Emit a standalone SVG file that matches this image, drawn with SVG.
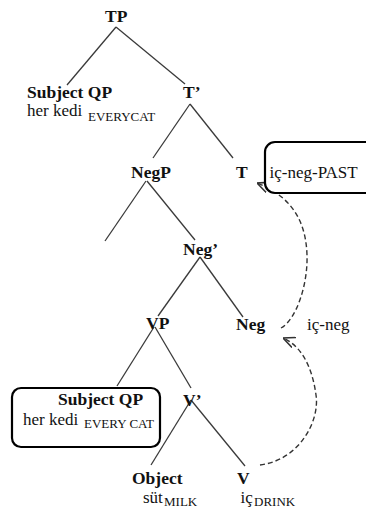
<svg xmlns="http://www.w3.org/2000/svg" width="366" height="511" viewBox="0 0 366 511">
  <style>
    text { font-family: "Liberation Serif", "Times New Roman", serif; fill: #111; }
    .b { font-weight: bold; font-size: 17.5px; }
    .r { font-size: 17px; }
    .s { font-size: 13px; }
    .edge { stroke: #3a3a3a; stroke-width: 1.3; fill: none; }
    .move { stroke: #333; stroke-width: 1.4; fill: none; stroke-dasharray: 5 3; marker-end: url(#chev); }
    .box { fill: #fff; stroke: #000; stroke-width: 2.2; }
  </style>
  <defs>
    <marker id="chev" viewBox="0 0 10 10" refX="10" refY="5" markerWidth="12" markerHeight="12" markerUnits="userSpaceOnUse" orient="auto">
      <path d="M0,0.5 L10,5 L0,9.5" fill="none" stroke="#333" stroke-width="1.3"/>
    </marker>
  </defs>
  <rect width="366" height="511" fill="#fff"/>

  <g id="connectors">
    <line class="edge" x1="116" y1="27" x2="67" y2="85"/>
    <line class="edge" x1="116" y1="27" x2="185" y2="84"/>
    <line class="edge" x1="190" y1="104" x2="153" y2="158"/>
    <line class="edge" x1="190" y1="104" x2="233" y2="158"/>
    <line class="edge" x1="146" y1="181" x2="105" y2="241"/>
    <line class="edge" x1="147" y1="181" x2="195" y2="240"/>
    <line class="edge" x1="200" y1="257" x2="158" y2="316"/>
    <line class="edge" x1="200" y1="257" x2="243" y2="317"/>
    <line class="edge" x1="154" y1="327" x2="117" y2="386"/>
    <line class="edge" x1="155" y1="327" x2="191" y2="388"/>
    <line class="edge" x1="191" y1="400" x2="151" y2="465"/>
    <line class="edge" x1="191" y1="400" x2="245" y2="466"/>
    <path class="move" d="M281 328 C296 320 308 285 307 255 C306 225 295 198 257 183"/>
    <path class="move" d="M260 465 C300 460 320 420 316 395 C312 365 300 345 283 338"/>
  </g>

  <g id="node-TP">
    <text class="b" x="105" y="22">TP</text>
  </g>
  <g id="node-SubjectQP-top">
    <text class="b" x="27" y="98">Subject QP</text>
    <text class="r" x="27" y="116">her kedi</text>
    <text class="s" x="88" y="120.5">EVERYCAT</text>
  </g>
  <g id="node-Tbar">
    <text class="b" x="183" y="98">T’</text>
  </g>
  <g id="node-NegP">
    <text class="b" x="131" y="178">NegP</text>
  </g>
  <g id="node-T">
    <text class="b" x="236" y="178">T</text>
  </g>
  <g id="node-icnegPAST">
    <rect class="box" x="265" y="142" width="124" height="51" rx="10"/>
    <text class="r" x="269.5" y="178">iç-neg-PAST</text>
  </g>
  <g id="node-Negbar">
    <text class="b" x="183" y="255">Neg’</text>
  </g>
  <g id="node-VP">
    <text class="b" x="146" y="329">VP</text>
  </g>
  <g id="node-Neg">
    <text class="b" x="236" y="330">Neg</text>
  </g>
  <g id="label-icneg">
    <text class="r" x="307" y="330">iç-neg</text>
  </g>
  <g id="node-SubjectQP-low">
    <rect class="box" x="12" y="388" width="148" height="59" rx="9"/>
    <text class="b" x="58" y="405">Subject QP</text>
    <text class="r" x="23" y="425">her kedi</text>
    <text class="s" x="84" y="428">EVERY CAT</text>
  </g>
  <g id="node-Vbar">
    <text class="b" x="183" y="406">V’</text>
  </g>
  <g id="node-Object">
    <text class="b" x="132" y="484">Object</text>
    <text class="r" x="143" y="503">süt</text>
    <text class="s" x="164" y="506">MILK</text>
  </g>
  <g id="node-V">
    <text class="b" x="237" y="484">V</text>
    <text class="r" x="240.5" y="503">iç</text>
    <text class="s" x="254" y="506">DRINK</text>
  </g>
</svg>
